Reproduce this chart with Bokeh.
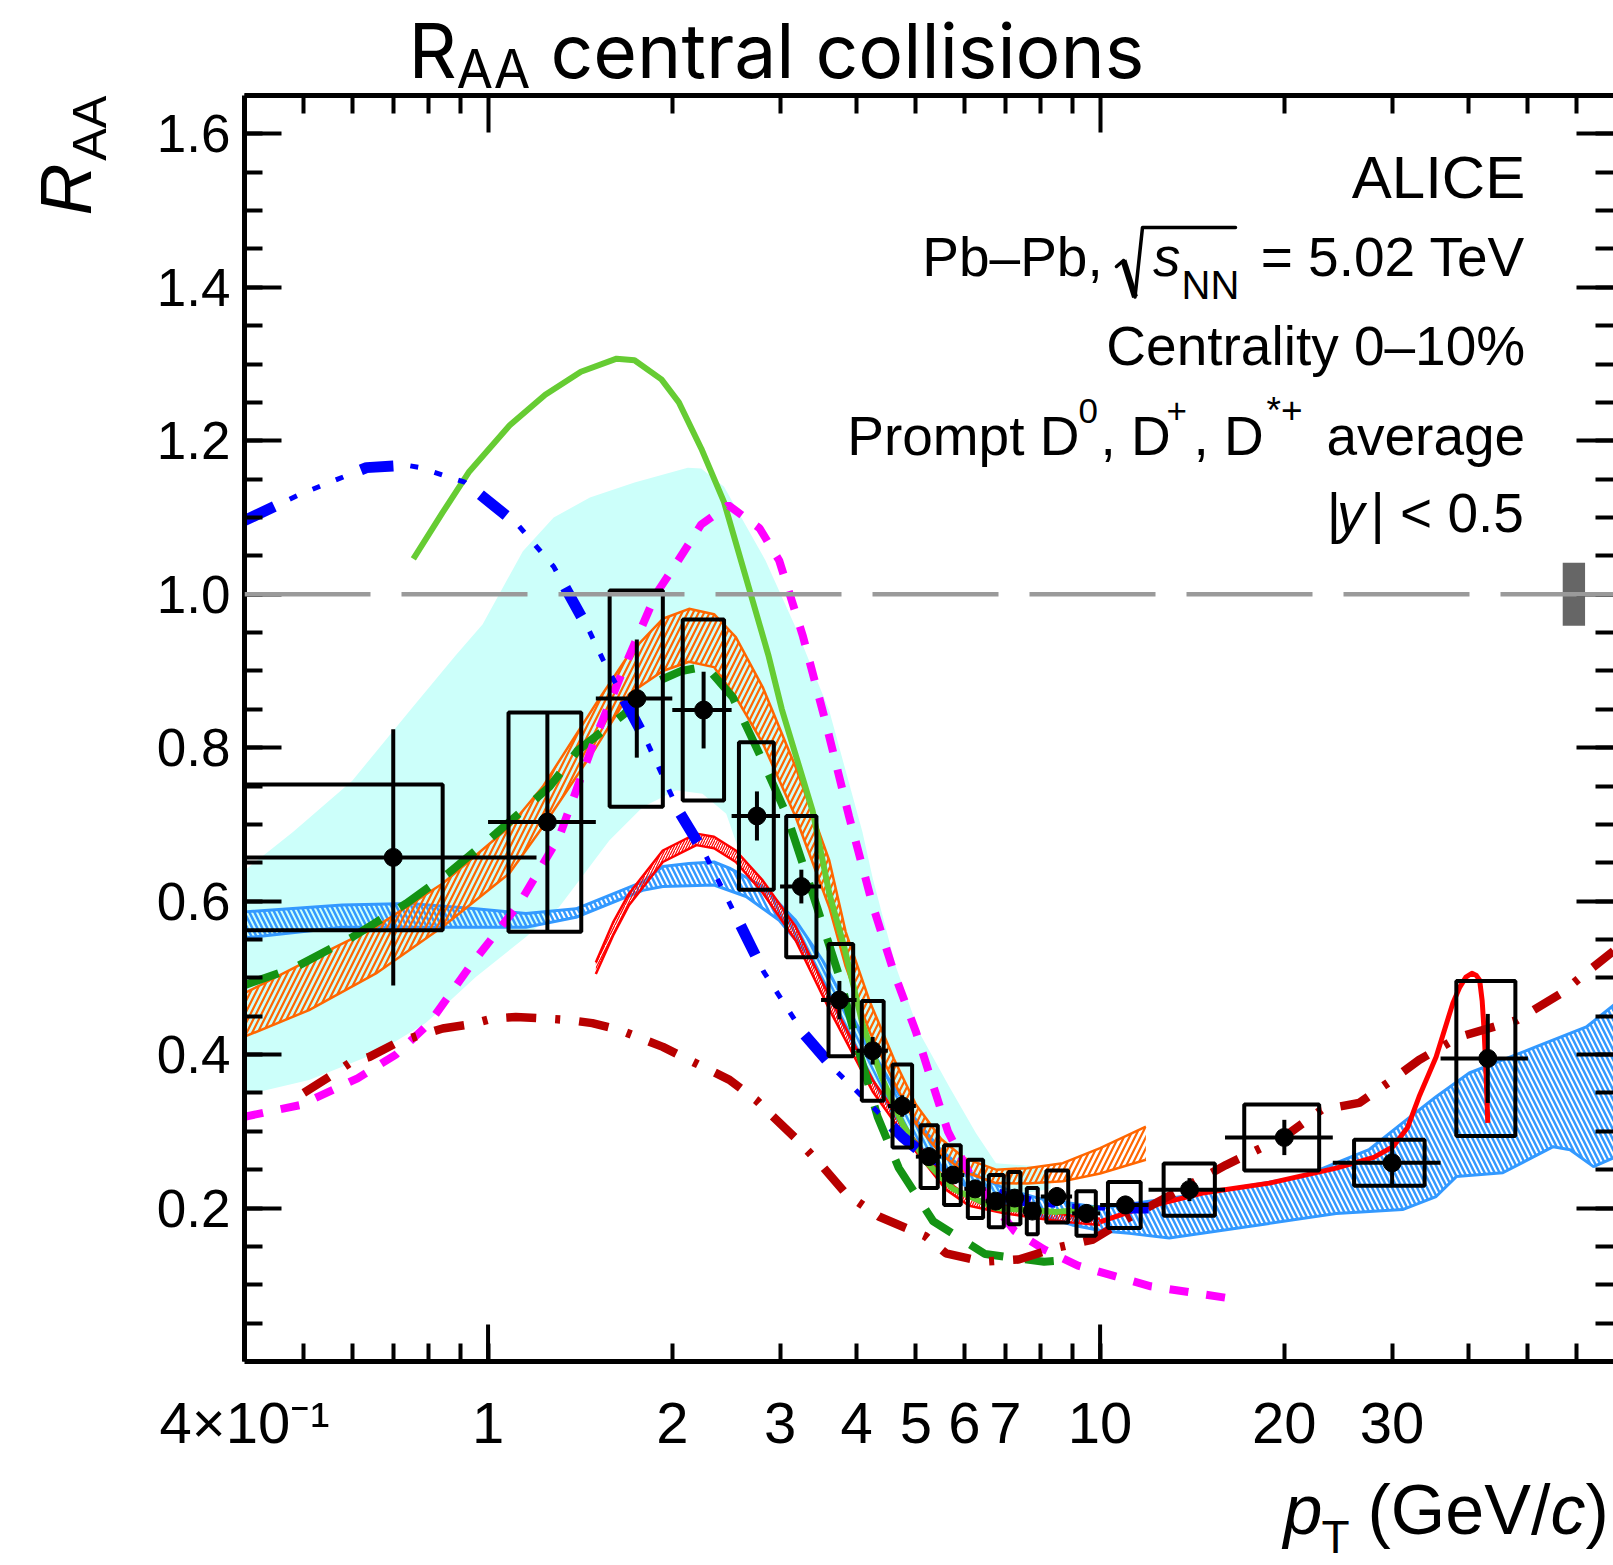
import math
from bokeh.plotting import figure
from bokeh.models import (Range1d, FixedTicker, LogAxis, LinearAxis, Label, Title,
                          PolyAnnotation, Span, ColumnDataSource)
from bokeh.embed import file_html
from bokeh.resources import INLINE

# ---------------- measured prompt D-meson R_AA, 0-10% Pb-Pb ----------------
pt      = [0.7, 1.25, 1.75, 2.25, 2.75, 3.25, 3.75, 4.25, 4.75, 5.25, 5.75, 6.25,
           6.75, 7.25, 7.75, 8.5, 9.5, 11.0, 14.0, 20.0, 30.0, 43.0]
pt_lo   = [0.2, 1.0, 1.5, 2.0, 2.5, 3.0, 3.5, 4.0, 4.5, 5.0, 5.5, 6.0,
           6.5, 7.0, 7.5, 8.0, 9.0, 10.0, 12.0, 16.0, 24.0, 36.0]
pt_hi   = [1.2, 1.5, 2.0, 2.5, 3.0, 3.5, 4.0, 4.5, 5.0, 5.5, 6.0, 6.5,
           7.0, 7.5, 8.0, 9.0, 10.0, 12.0, 16.0, 24.0, 36.0, 50.0]
raa     = [0.657, 0.703, 0.864, 0.849, 0.711, 0.619, 0.471, 0.405, 0.333, 0.267, 0.243, 0.225,
           0.209, 0.213, 0.196, 0.215, 0.193, 0.204, 0.224, 0.292, 0.259, 0.395]
stat    = [0.167, 0.143, 0.077, 0.050, 0.032, 0.022, 0.025, 0.018, 0.014, 0.012, 0.010, 0.010,
           0.010, 0.010, 0.010, 0.012, 0.012, 0.012, 0.015, 0.023, 0.030, 0.058]
syst    = [0.095, 0.143, 0.141, 0.118, 0.096, 0.092, 0.073, 0.065, 0.054, 0.041, 0.039, 0.038,
           0.034, 0.034, 0.030, 0.034, 0.029, 0.030, 0.034, 0.043, 0.030, 0.101]
syst_lo = [0.30, 1.08, 1.58, 2.08, 2.57, 3.07, 3.60, 4.08, 4.58, 5.09, 5.56, 6.08,
           6.58, 7.08, 7.59, 8.17, 9.15, 10.3, 12.7, 17.2, 26.0, 38.2]
syst_hi = [0.843, 1.42, 1.93, 2.43, 2.93, 3.44, 3.95, 4.43, 4.93, 5.43, 5.92, 6.44,
           6.96, 7.41, 7.91, 8.87, 9.84, 11.65, 15.4, 22.8, 33.9, 47.7]

# global normalisation uncertainty, drawn at unity
norm_unc = 0.041
norm_pt = [57.0, 62.0]

# ---------------- model predictions ----------------
cyan_up_x = [0.4, 0.48, 0.6, 0.75, 0.885, 0.98, 1.14, 1.28, 1.467, 1.735, 2.12, 2.23, 2.43,
             2.84, 3.18, 3.61, 4.09, 4.25, 4.64, 5.07, 5.67, 6.27, 6.76, 7.95, 8.3]
cyan_up_y = [0.64, 0.69, 0.757, 0.851, 0.92, 0.961, 1.056, 1.10, 1.126, 1.1455, 1.165, 1.164, 1.14,
             1.044, 0.957, 0.848, 0.69, 0.63, 0.514, 0.428, 0.358, 0.2975, 0.2585, 0.254, 0.24]
cyan_lo_x = [0.4, 0.51, 0.656, 0.79, 0.955, 1.153, 1.307, 1.578, 1.79, 2.03, 2.24, 2.45, 2.57,
             2.95, 3.3, 3.7, 4.2, 4.7, 5.3, 6.0, 7.0, 8.3]
cyan_lo_y = [0.347, 0.367, 0.4017, 0.4407, 0.501, 0.5534, 0.5925, 0.679, 0.7226, 0.7444, 0.74, 0.714, 0.666,
             0.60, 0.53, 0.46, 0.38, 0.31, 0.26, 0.23, 0.215, 0.225]

blue_up_x = [0.4, 0.578, 0.744, 0.955, 1.153, 1.392, 1.789, 1.93, 2.13, 2.34, 2.48, 2.81, 3.18, 3.52,
             4.0, 4.5, 5.0, 5.5, 6.0, 7.0, 8.0, 10.1, 14.7, 21.4, 27.5, 31.2, 35.4, 40.1, 51.5, 62.3, 69.7]
blue_up_y = [0.586, 0.595, 0.597, 0.590, 0.584, 0.590, 0.625, 0.645, 0.649, 0.651, 0.643, 0.619, 0.575, 0.523,
             0.44, 0.37, 0.315, 0.275, 0.25, 0.225, 0.212, 0.20, 0.219, 0.241, 0.276, 0.311, 0.345, 0.376, 0.41, 0.436, 0.467]
blue_lo_x = [0.4, 0.578, 0.744, 0.955, 1.153, 1.392, 1.789, 1.93, 2.34, 2.64, 2.99, 3.39, 3.8, 4.3, 4.8,
             5.5, 6.0, 7.0, 8.0, 9.0, 10.1, 11.16, 12.97, 18.9, 24.3, 31.2, 35.4, 38.2, 45.5, 55.0, 58.6, 64.0, 69.7]
blue_lo_y = [0.552, 0.566, 0.566, 0.566, 0.566, 0.579, 0.614, 0.619, 0.621, 0.606, 0.575, 0.523, 0.44, 0.36, 0.30,
             0.25, 0.23, 0.205, 0.19, 0.178, 0.17, 0.167, 0.161, 0.18, 0.193, 0.198, 0.215, 0.241, 0.246, 0.28, 0.276, 0.254, 0.267]

orange_x  = [0.4, 0.51, 0.656, 0.843, 1.083, 1.228, 1.5, 1.70, 1.93, 2.13, 2.34, 2.54, 2.81, 3.18, 3.61,
             3.84, 4.2, 4.6, 5.0, 5.5, 6.0, 6.76, 7.6, 8.69, 10.0, 11.88]
orange_hi = [0.48, 0.523, 0.5665, 0.623, 0.6966, 0.749, 0.857, 0.922, 0.968, 0.981, 0.974, 0.944, 0.879, 0.775, 0.653,
             0.56, 0.47, 0.395, 0.335, 0.29, 0.265, 0.25, 0.252, 0.2585, 0.278, 0.306]
orange_lo = [0.4233, 0.458, 0.5058, 0.5665, 0.636, 0.6966, 0.80, 0.87, 0.90, 0.912, 0.905, 0.866, 0.806, 0.71, 0.592,
             0.515, 0.43, 0.365, 0.31, 0.27, 0.247, 0.2325, 0.232, 0.235, 0.245, 0.263]

red_x  = [1.5, 1.6, 1.70, 1.93, 2.19, 2.34, 2.54, 2.81, 3.18, 3.61, 4.25, 4.94, 5.6, 6.11, 7.0, 8.0, 9.0, 10.0]
red_hi = [0.52, 0.572, 0.61, 0.666, 0.688, 0.684, 0.666, 0.627, 0.567, 0.476, 0.367, 0.293, 0.236, 0.214, 0.203, 0.196, 0.19, 0.186]
red_lo = [0.505, 0.555, 0.595, 0.651, 0.673, 0.669, 0.651, 0.611, 0.549, 0.459, 0.352, 0.279, 0.224, 0.203, 0.193, 0.186, 0.181, 0.178]
red_tail_x = [10.0, 11.45, 14.7, 18.9, 24.3, 28.0, 30.1, 31.8, 33.2, 35.4, 37.7, 38.7, 39.6, 40.5,
              41.2, 41.7, 42.1, 42.4, 42.7, 43.0]
red_tail_y = [0.182, 0.198, 0.2195, 0.2325, 0.252, 0.266, 0.28, 0.305, 0.345, 0.397, 0.467, 0.488, 0.501, 0.506,
              0.503, 0.497, 0.47, 0.432, 0.38, 0.311]

green_x = [0.755, 0.842, 0.932, 1.084, 1.24, 1.418, 1.622, 1.735, 1.92, 2.05, 2.23, 2.43, 2.64, 2.87, 3.02,
           3.39, 3.61, 3.82, 4.09, 4.4, 4.75, 5.2, 5.75, 6.75, 8.5, 10.0]
green_y = [1.046, 1.106, 1.16, 1.22, 1.26, 1.29, 1.307, 1.305, 1.28, 1.25, 1.19, 1.12, 1.021, 0.921, 0.85,
           0.718, 0.61, 0.54, 0.44, 0.37, 0.31, 0.26, 0.225, 0.20, 0.195, 0.2]

gdash_x = [0.4, 0.485, 0.6, 0.735, 0.86, 1.03, 1.26, 1.40, 1.67, 1.886, 2.07, 2.27, 2.51, 2.79, 3.07,
           3.4, 3.755, 4.05, 4.33, 4.69, 5.34, 6.49, 8.1, 8.4]
gdash_y = [0.4905, 0.514, 0.553, 0.597, 0.636, 0.688, 0.749, 0.796, 0.844, 0.886, 0.90, 0.906, 0.866, 0.788, 0.714,
           0.607, 0.50, 0.40, 0.319, 0.252, 0.1825, 0.14, 0.13, 0.131]

magenta_x = [0.4, 0.492, 0.612, 0.707, 0.8, 0.932, 1.125, 1.307, 1.5, 1.66, 1.88, 2.03, 2.23, 2.47, 2.777,
             2.99, 3.27, 3.57, 3.89, 4.25, 4.6, 5.0, 5.28, 5.64, 6.11, 7.25, 8.1, 9.2, 10.6, 12.1, 16.4]
magenta_y = [0.319, 0.334, 0.369, 0.40, 0.44, 0.514, 0.597, 0.684, 0.814, 0.90, 1.0, 1.04, 1.091, 1.116, 1.086,
             1.044, 0.945, 0.83, 0.71, 0.595, 0.508, 0.43, 0.371, 0.30, 0.246, 0.17, 0.146, 0.125, 0.111, 0.098, 0.082]

darkred_x = [0.5, 0.55, 0.594, 0.64, 0.707, 0.772, 0.843, 0.943, 1.017, 1.11, 1.244, 1.358, 1.48, 1.64, 1.78,
             1.93, 2.13, 2.3, 2.48, 2.74, 2.88, 3.2, 3.52, 3.84, 4.35, 5.19, 5.6, 6.43, 7.36, 8.47, 9.74, 11.0,
             14.5, 16.05, 20.0, 23.0, 26.5, 30.0, 33.2, 38.6, 48.0, 56.7, 63.0, 69.0]
darkred_y = [0.35, 0.371, 0.389, 0.397, 0.415, 0.425, 0.434, 0.44, 0.447, 0.449, 0.447, 0.445, 0.441, 0.432, 0.421,
             0.41, 0.393, 0.38, 0.367, 0.341, 0.324, 0.289, 0.254, 0.219, 0.189, 0.163, 0.141, 0.13, 0.133, 0.148, 0.159, 0.185,
             0.237, 0.256, 0.293, 0.328, 0.337, 0.367, 0.393, 0.423, 0.445, 0.48, 0.51, 0.535]

blue_dd_x = [0.4, 0.492, 0.633, 0.737, 0.775, 0.916, 1.12, 1.28, 1.466, 1.54, 1.824, 2.05, 2.27, 2.55, 2.82,
             3.28, 3.69, 4.225, 4.75, 5.26, 6.0, 7.0, 8.0, 10.0, 12.0]
blue_dd_y = [1.096, 1.13, 1.165, 1.168, 1.165, 1.146, 1.09, 1.036, 0.951, 0.915, 0.805, 0.717, 0.659, 0.578, 0.508,
             0.427, 0.38, 0.334, 0.293, 0.264, 0.235, 0.215, 0.205, 0.2, 0.2]

# ---------------- axes ----------------
x_major = [1, 10]
x_minor = [0.5, 0.6, 0.7, 0.8, 0.9, 2, 3, 4, 5, 6, 7, 8, 9, 20, 30, 40, 50, 60]
x_label_pos = [0.4, 1, 2, 3, 4, 5, 6, 7, 10, 20, 30]
x_label_txt = ["4×10⁻¹", "1", "2", "3", "4", "5", "6", "7", "10", "20", "30"]
x_unlabelled = [0.5, 0.6, 0.7, 0.8, 0.9, 8, 9, 40, 50, 60]
y_major = [0.2, 0.4, 0.6, 0.8, 1.0, 1.2, 1.4, 1.6]
y_label_txt = ["0.2", "0.4", "0.6", "0.8", "1.0", "1.2", "1.4", "1.6"]
y_minor = [round(0.05 * k, 2) for k in range(1, 34)]

W, H = 1613, 1565
FL, FT, FB = 244, 95, 1361          # frame left / top / bottom in page pixels

p = figure(width=W, height=H, x_axis_type="log",
           x_range=Range1d(0.4, 69.0), y_range=Range1d(0.0, 1.65),
           output_backend="svg", toolbar_location=None,
           min_border_left=FL, min_border_right=0, min_border_top=FT,
           min_border_bottom=H - FB)
p.grid.visible = False
p.background_fill_color = "white"
p.border_fill_color = "white"
p.outline_line_color = None


def style_axis(ax, major_in, minor_in, labels=False):
    ax.axis_line_width = 5
    ax.axis_line_color = "black"
    ax.major_tick_line_width = 4
    ax.minor_tick_line_width = 4
    ax.major_tick_in = major_in
    ax.minor_tick_in = minor_in
    ax.major_tick_out = 0
    ax.minor_tick_out = 0
    if not labels:
        ax.major_label_text_font_size = "0px"
        ax.major_label_standoff = 0
        ax.major_label_overrides = {t: "" for t in ax.ticker.ticks}


# bottom axis: labelled ticks (short), plus the decade ticks drawn long below
bottom = p.xaxis[0]
bottom.ticker = FixedTicker(ticks=x_label_pos, minor_ticks=x_unlabelled)
style_axis(bottom, 18, 18, labels=True)
bottom.major_label_overrides = dict(zip(x_label_pos, x_label_txt))
bottom.major_label_text_font = "Liberation Sans"
bottom.major_label_text_font_size = "58px"
bottom.major_label_text_color = "black"
bottom.major_label_standoff = 28

p.extra_y_ranges = {"px": Range1d(0, FB - FT)}
p.segment(x0=x_major, y0=[0] * len(x_major), x1=x_major, y1=[37] * len(x_major),
          y_range_name="px", line_color="black", line_width=4)

left = p.yaxis[0]
left.ticker = FixedTicker(ticks=y_major, minor_ticks=y_minor)
style_axis(left, 37, 18, labels=True)
left.major_label_overrides = dict(zip(y_major, y_label_txt))
left.major_label_text_font = "Liberation Sans"
left.major_label_text_font_size = "53px"
left.major_label_text_color = "black"
left.major_label_standoff = 14

top = LogAxis(ticker=FixedTicker(ticks=x_major, minor_ticks=x_minor))
style_axis(top, 37, 18)
p.add_layout(top, "above")

# right-hand ticks only; the frame edge itself lies at the page border
right = LinearAxis(ticker=FixedTicker(ticks=y_major, minor_ticks=y_minor))
style_axis(right, 37, 18)
right.axis_line_color = None
p.add_layout(right, "right")

# ---------------- model bands and curves ----------------
p.patch(cyan_up_x + cyan_lo_x[::-1], cyan_up_y + cyan_lo_y[::-1],
        fill_color="#ccfffa", line_color=None)

LB = "#3399ff"
p.patch(blue_up_x + blue_lo_x[::-1], blue_up_y + blue_lo_y[::-1],
        fill_color=None, line_color=None,
        hatch_pattern="\\", hatch_color=LB, hatch_scale=10, hatch_weight=2.5)
p.line(blue_up_x, blue_up_y, line_color=LB, line_width=3)
p.line(blue_lo_x, blue_lo_y, line_color=LB, line_width=3)

OR = "#ff6600"
p.varea(x=orange_x, y1=orange_lo, y2=orange_hi, fill_color=None,
        hatch_pattern="/", hatch_color=OR, hatch_scale=11, hatch_weight=2.2)
p.line(orange_x, orange_hi, line_color=OR, line_width=2.5)
p.line(orange_x, orange_lo, line_color=OR, line_width=2.5)

RD = "#ff0000"
p.varea(x=red_x, y1=red_lo, y2=red_hi, fill_color=None,
        hatch_pattern="/", hatch_color=RD, hatch_scale=5, hatch_weight=1.2)
p.line(red_x, red_hi, line_color=RD, line_width=2.5)
p.line(red_x, red_lo, line_color=RD, line_width=2.5)
p.line(red_tail_x, red_tail_y, line_color=RD, line_width=5, line_join="round")

p.line(green_x, green_y, line_color="#66cc33", line_width=6)
p.line(gdash_x, gdash_y, line_color="#149314", line_width=8, line_dash="36 22")
p.line(magenta_x, magenta_y, line_color="#ff00ff", line_width=8, line_dash="19 18")
p.line(darkred_x, darkred_y, line_color="#b80000", line_width=8.5, line_dash="30 19 5 19")
# dash-dot-dot-dot: heavy dashes plus lighter dots on the same path
p.line(blue_dd_x, blue_dd_y, line_color="#0000ff", line_width=11, line_dash="33 94")
p.line(blue_dd_x, blue_dd_y, line_color="#0000ff", line_width=5,
       line_dash="8 17 8 17 8 69", line_dash_offset=77)

# unity reference and normalisation box
p.add_layout(Span(location=1.0, dimension="width", line_color="#9a9a9a",
                  line_width=4.5, line_dash="126 31"))
p.quad(left=[norm_pt[0]], right=[norm_pt[1]], bottom=[1 - norm_unc], top=[1 + norm_unc],
       fill_color="#666666", line_color=None)

# ---------------- data ----------------
src = ColumnDataSource(dict(
    pt=pt, raa=raa, xlo=pt_lo, xhi=pt_hi,
    slo=[r - s for r, s in zip(raa, stat)], shi=[r + s for r, s in zip(raa, stat)],
    blo=[r - s for r, s in zip(raa, syst)], bhi=[r + s for r, s in zip(raa, syst)],
    bl=syst_lo, br=syst_hi))
p.quad(left="bl", right="br", bottom="blo", top="bhi", source=src,
       fill_color=None, line_color="black", line_width=4)
p.segment(x0="xlo", y0="raa", x1="xhi", y1="raa", source=src, line_color="black", line_width=4)
p.segment(x0="pt", y0="slo", x1="pt", y1="shi", source=src, line_color="black", line_width=4)
p.scatter(x="pt", y="raa", source=src, size=18, color="black")


# ---------------- text outside the frame (side-panel titles) ----------------
def side_text(side, text, size, offset, standoff, valign, align,
              style="normal", font="Liberation Sans"):
    p.add_layout(Title(text=text, text_font=font, text_font_size=f"{size}px",
                       text_font_style=style, text_color="black", offset=offset,
                       standoff=standoff, vertical_align=valign, align=align), side)


# plot title
side_text("above", "R", 75, 164, -181, "top", "left", font="Inter")
side_text("above", "AA", 53, 212, -117, "top", "left", font="Inter")
side_text("above", "central collisions", 75, 306, -181, "top", "left", font="Inter")

# y axis title
side_text("left", "AA", 49, 0, -184, "top", "right")
side_text("left", "R", 72, 68, -256, "top", "right", style="italic")

# x axis title
side_text("below", "p", 70, 1039, -183, "bottom", "left", style="italic")
side_text("below", "T", 46, 1077, -210, "bottom", "left")
side_text("below", "(GeV/", 70, 1123, -183, "bottom", "left")
side_text("below", "c", 70, 1306, -183, "bottom", "left", style="italic")
side_text("below", ")", 70, 1341, -183, "bottom", "left")


# ---------------- text inside the frame ----------------
def sx(X):
    return X - FL


def lab(X, Y, text, size, align="left", style="normal", font="Liberation Sans"):
    # baseline at page row Y
    p.add_layout(Label(x=sx(X), y=FB - Y + 0.385 * size, x_units="screen", y_units="screen",
                       text=text, text_font=font, text_font_size=f"{size}px",
                       text_font_style=style, text_align=align,
                       text_baseline="alphabetic", text_color="black"))


RX = 1524.7
lab(RX, 200, "ALICE", 60, align="right")
lab(921.8, 277.5, "Pb–Pb,", 55)
lab(1152.5, 277.5, "s", 55, style="italic")
lab(1181, 300, "NN", 40)
lab(RX, 277.5, "= 5.02 TeV", 55, align="right")
rad = [(1116, 266), (1123, 260), (1134.5, 296.5), (1142, 227), (1235, 227)]
path = rad + rad[-2:0:-1]
p.add_layout(PolyAnnotation(xs=[sx(a) for a, _ in path], ys=[FB - b for _, b in path],
                            xs_units="screen", ys_units="screen", fill_alpha=0,
                            line_color="black", line_alpha=1.0, line_width=3.5,
                            line_join="round"))
p.add_layout(PolyAnnotation(xs=[sx(1123), sx(1134.5)], ys=[FB - 260, FB - 296.5],
                            xs_units="screen", ys_units="screen", fill_alpha=0,
                            line_color="black", line_alpha=1.0, line_width=6))
lab(RX, 367, "Centrality 0–10%", 55, align="right")
lab(846.7, 457, "Prompt D", 55)
lab(1078, 424, "0", 35)
lab(1100, 457, ", D", 55)
lab(1166, 424, "+", 35)
lab(1193, 457, ", D", 55)
lab(1266, 424, "*+", 37)
lab(RX, 457, "average", 55, align="right")
lab(1326.2, 534, "|", 55)
lab(1336.5, 534, "y", 55, style="italic")
lab(1370, 534, "| < 0.5", 55)

open("out.html", "w").write(file_html(p, INLINE))
